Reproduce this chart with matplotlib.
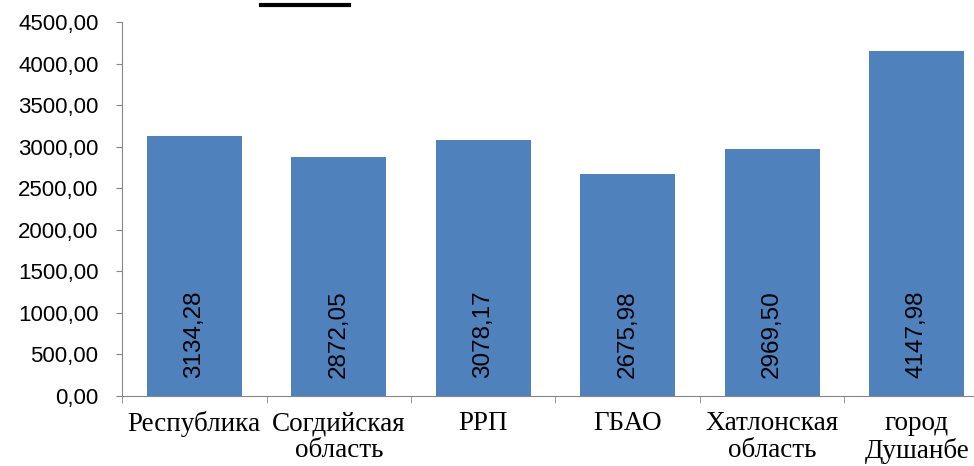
import matplotlib
matplotlib.use('Agg')
import matplotlib.pyplot as plt
import numpy as np
from matplotlib.lines import Line2D

# данные по регионам
regions = ['Республика', 'Согдийская\nобласть', 'РРП', 'ГБАО', 'Хатлонская\nобласть', 'город\nДушанбе']
values = [3134.28, 2872.05, 3078.17, 2675.98, 2969.50, 4147.98]
yticks = [0, 500, 1000, 1500, 2000, 2500, 3000, 3500, 4000, 4500]

fig = plt.figure(figsize=(9.74, 4.66), dpi=100)
ax = fig.add_axes([0.1253, 0.1502, 0.89, 0.8026])

x = np.arange(len(regions))
bars = ax.bar(x, values, width=0.66, color='#4F81BD', zorder=2)

# подписи значений внутри столбцов
for xi, v in zip(x, values):
    ax.text(xi, 740, f'{v:.2f}'.replace('.', ','), rotation=90, ha='center', va='center',
            fontsize=17.5, family='Liberation Sans', color='black')

ax.set_xlim(-0.5, len(regions) - 0.5)
ax.set_ylim(0, 4500)
ax.set_yticks(yticks)
ax.set_yticklabels([f'{t},00' for t in yticks], fontsize=16, family='Liberation Sans')
ax.set_xticks(x)
ax.set_xticklabels(regions, fontsize=19.5, family='Liberation Serif', linespacing=1.1)
ax.set_xticks(np.arange(len(regions) + 1) - 0.5, minor=True)
ax.tick_params(axis='x', which='major', length=0, pad=11)
ax.tick_params(axis='x', which='minor', length=5, color='#868686', direction='out')
ax.tick_params(axis='y', length=4.5, color='#868686', direction='out', pad=12.5)

for s in ['top', 'right']:
    ax.spines[s].set_visible(False)
for s in ['left', 'bottom']:
    ax.spines[s].set_color('#868686')

# обрезанный заголовок сверху (только подчёркивание)
fig.add_artist(Line2D([261 / 974, 349 / 974], [1 - 4.5 / 466, 1 - 4.5 / 466], color='black', lw=3))

fig.savefig('out.png', dpi=100)
